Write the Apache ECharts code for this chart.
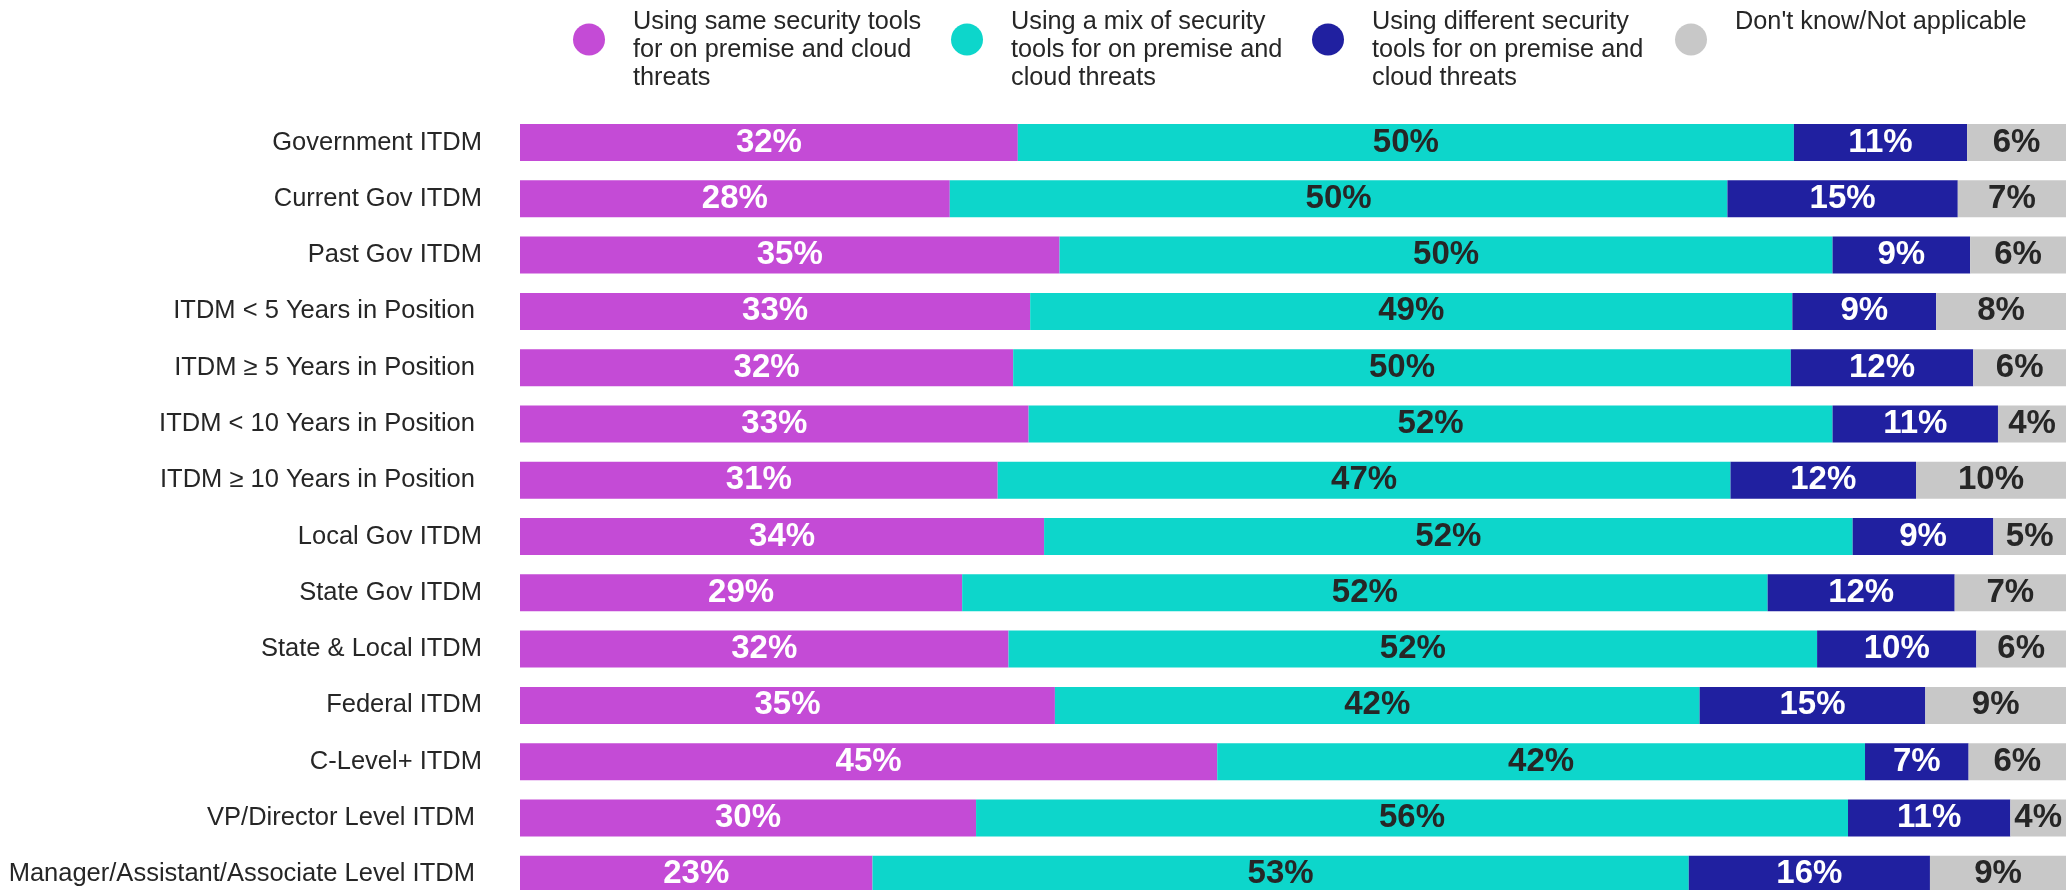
<!DOCTYPE html>
<html>
<head>
<meta charset="utf-8">
<script src="https://cdn.jsdelivr.net/npm/echarts@6/dist/echarts.min.js"></script>
<style>
html,body{margin:0;padding:0;background:#fff;}
#chart{width:2069px;height:890px;}
</style>
</head>
<body>
<div id="chart"></div>
<script>
const categories = [
  "Government ITDM",
  "Current Gov ITDM",
  "Past Gov ITDM",
  "ITDM < 5 Years in Position ",
  "ITDM \u2265 5 Years in Position ",
  "ITDM < 10 Years in Position ",
  "ITDM \u2265 10 Years in Position ",
  "Local Gov ITDM",
  "State Gov ITDM",
  "State & Local ITDM",
  "Federal ITDM",
  "C-Level+ ITDM",
  "VP/Director Level ITDM ",
  "Manager/Assistant/Associate Level ITDM "
];
const seriesNames = [
  "Using same security tools for on premise and cloud threats",
  "Using a mix of security tools for on premise and cloud threats",
  "Using different security tools for on premise and cloud threats",
  "Don't know/Not applicable"
];
const legendText = [
  "Using same security tools\nfor on premise and cloud\nthreats",
  "Using a mix of security\ntools for on premise and\ncloud threats",
  "Using different security\ntools for on premise and\ncloud threats",
  "Don't know/Not applicable"
];
const sameTools      = [32.2, 27.8, 34.9, 33.0, 31.9, 32.9, 30.9, 33.9, 28.6, 31.6, 34.6, 45.1, 29.5, 22.8];
const mixTools       = [50.2, 50.3, 50.0, 49.3, 50.3, 52.0, 47.4, 52.3, 52.1, 52.3, 41.7, 41.9, 56.4, 52.8];
const differentTools = [11.2, 14.9,  8.9,  9.3, 11.8, 10.7, 12.0,  9.1, 12.1, 10.3, 14.6,  6.7, 10.5, 15.6];
const dontKnow       = [ 6.4,  7.0,  6.2,  8.4,  6.0,  4.4,  9.7,  4.7,  7.2,  5.8,  9.1,  6.3,  3.6,  8.8];

const colors = ["#C44BD6", "#0DD6CB", "#2020A0", "#C8C8C8"];
const labelColors = ["#ffffff", "#262626", "#ffffff", "#262626"];
const seriesData = [sameTools, mixTools, differentTools, dontKnow];
const FONT = "'Liberation Sans', Arial, Helvetica, sans-serif";

const chart = echarts.init(document.getElementById('chart'), null, {renderer: 'canvas'});

const legendLefts = [573, 951, 1312, 1675];
const legends = seriesNames.map((n, i) => ({
  data: [n],
  orient: 'horizontal',
  left: legendLefts[i],
  top: i < 3 ? -13.5 : 8,
  padding: 0,
  icon: 'circle',
  itemWidth: 32,
  itemHeight: 32,
  selectedMode: false,
  formatter: () => i < 3 ? '{s| }\n' + legendText[i] : legendText[i] + '\n{b| }',
  textStyle: {
    fontFamily: FONT,
    fontSize: 25.3,
    lineHeight: 28,
    color: '#262626',
    padding: [0, 0, 0, 23],
    rich: {
      s: {fontSize: 4, lineHeight: 22},
      b: {fontSize: 4, lineHeight: 35}
    }
  }
}));

const series = seriesNames.map((n, i) => ({
  name: n,
  type: 'bar',
  stack: 'total',
  barWidth: 37,
  data: seriesData[i],
  itemStyle: {color: colors[i]},
  label: {
    show: true,
    position: 'inside',
    formatter: p => Math.round(p.value) + '%',
    fontFamily: FONT,
    fontSize: 33,
    fontWeight: 'bold',
    color: labelColors[i]
  },
  emphasis: {disabled: true}
}));

chart.setOption({
  animation: false,
  backgroundColor: '#ffffff',
  legend: legends,
  grid: {left: 520, right: 3, top: 114.4, height: 788, outerBoundsMode: 'none', containLabel: false},
  xAxis: {
    type: 'value',
    min: 0,
    max: 100,
    show: false
  },
  yAxis: {
    type: 'category',
    data: categories,
    inverse: true,
    axisLine: {show: false},
    axisTick: {show: false},
    splitLine: {show: false},
    axisLabel: {
      margin: 38,
      fontFamily: FONT,
      fontSize: 25.5,
      color: '#262626'
    }
  },
  series: series
});
</script>
</body>
</html>
